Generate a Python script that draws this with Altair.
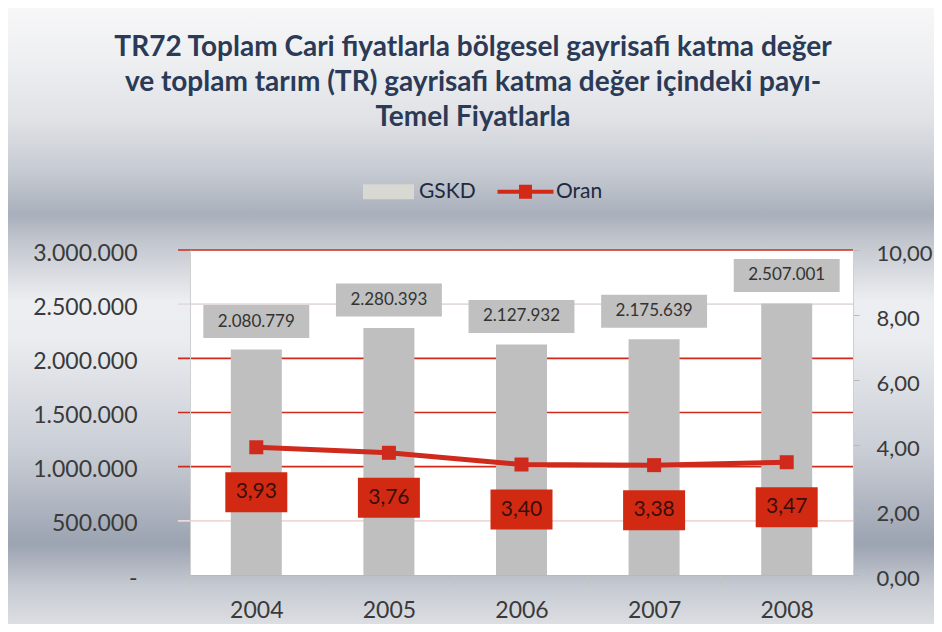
import altair as alt
import pandas as pd

# ---------------- data ----------------
years = ["2004", "2005", "2006", "2007", "2008"]
gskd = [2080779, 2280393, 2127932, 2175639, 2507001]
oran = [3.93, 3.76, 3.40, 3.38, 3.47]
left_ticks = [0, 500000, 1000000, 1500000, 2000000, 2500000, 3000000]
right_ticks = [0, 2, 4, 6, 8, 10]
grid_values = [500000, 1000000, 1500000, 2000000, 2500000, 3000000]
legend_names = ["GSKD", "Oran"]
title_lines = [
    "TR72 Toplam Cari fiyatlarla bölgesel gayrisafi katma değer",
    "ve toplam tarım (TR) gayrisafi katma değer içindeki payı-",
    "Temel Fiyatlarla",
]

# ---------------- styles ----------------
W, H = 663, 325
PAD = {"left": 182, "top": 242, "right": 81, "bottom": 49}
FONT = "Lato"
RED = "#cf2a1c"
grid_colors = ["#f0d8d5", RED, RED, RED, "#e3dcdc", RED]
bg_offsets = [0.0, 0.085, 0.18, 0.265, 0.335, 0.375, 0.475, 0.54, 0.72, 0.87, 0.94, 1.0]
bg_colors = ["#f7f7f8", "#eeeff1", "#e0e2e6", "#c6cad2", "#a9afbb", "#c0c4cc",
             "#eceef1", "#eaecef", "#c9cdd5", "#9ca3b1", "#c6cad2", "#dcdee2"]

df = pd.DataFrame({"year": years, "gskd": gskd, "oran": oran})
grid_df = pd.DataFrame({"v": grid_values, "c": grid_colors})
legend_df = pd.DataFrame({"lg": legend_names})
one = pd.DataFrame({"k": [0]})

x_scale = alt.Scale(domain=years, paddingInner=0, paddingOuter=0)
x_axis = alt.Axis(
    title=None, labelAngle=0, tickBand="extent", tickSize=10, tickColor="#c4c4c4",
    domainColor="#b8b8b8", labelPadding=14, labelFont=FONT, labelFontSize=23,
    labelColor="#3a3a3a", zindex=1)
x_enc = alt.X("year:N", scale=x_scale, axis=x_axis)
yl_scale = alt.Scale(domain=[0, 3000000], nice=False)
yr_scale = alt.Scale(domain=[0, 10], nice=False)

# legend (source points hidden under the background)
rect_path = "M-2.55,-0.75H2.55V0.75H-2.55Z"
line_path = "M-2.8,-0.2H2.8V0.2H-2.8Z M-0.65,-0.7H0.65V0.7H-0.65Z"
leg = alt.Legend(title=None, orient="none", legendX=188, legendY=-69,
                 direction="horizontal", symbolSize=400, symbolStrokeWidth=0,
                 labelFont=FONT, labelFontSize=21, labelColor="#1e2a40",
                 labelOffset=20, columnPadding=21, padding=0, zindex=1)
legend_layer = alt.Chart(legend_df).mark_point(filled=True, size=400, opacity=1).encode(
    color=alt.Color("lg:N", scale=alt.Scale(domain=legend_names, range=["#d9d9d4", "#d22a16"]), legend=leg),
    shape=alt.Shape("lg:N", scale=alt.Scale(domain=legend_names, range=[rect_path, line_path]), legend=leg),
)

grad = alt.LinearGradient(
    gradient="linear", x1=0, y1=0, x2=0, y2=1,
    stops=[alt.GradientStop(offset=o, color=c) for o, c in zip(bg_offsets, bg_colors)],
)
background = alt.Chart(one).mark_rect(fill=grad, strokeWidth=0).encode(
    x=alt.value(-PAD["left"]), x2=alt.value(W + PAD["right"]),
    y=alt.value(-PAD["top"]), y2=alt.value(H + PAD["bottom"]),
)
plot_bg = alt.Chart(one).mark_rect(fill="white", strokeWidth=0).encode(
    x=alt.value(0), x2=alt.value(W), y=alt.value(0), y2=alt.value(H)
)

title_layer = alt.Chart(one).mark_text(
    font=FONT, fontSize=28, fontWeight="bold", color="#2b3a57",
    lineHeight=35, align="center", baseline="middle",
).encode(x=alt.value(283), y=alt.value(-202), text=alt.value(title_lines))

grid = alt.Chart(grid_df).mark_rule(strokeWidth=1.6).encode(
    y=alt.Y("v:Q", scale=yl_scale, axis=None),
    x=alt.value(-12), x2=alt.value(W),
    color=alt.Color("c:N", scale=None),
)

bars = alt.Chart(df).mark_bar(width=51, color="#bfbfbf").encode(
    x=x_enc,
    y=alt.Y("gskd:Q", scale=yl_scale, axis=alt.Axis(
        title=None, orient="left", values=left_ticks, format=",.0f",
        labelExpr="datum.value == 0 ? '-\u00a0\u00a0\u00a0\u00a0' : datum.label",
        ticks=False, grid=False, domainColor="#cfcfcf", labelPadding=53, labelOffset=3,
        labelFont=FONT, labelFontSize=23, labelColor="#3a3a3a", zindex=1)),
)

box_path = "M-3.21,-1H3.21V1H-3.21Z"
gray_boxes = alt.Chart(df).mark_point(shape=box_path, filled=True, size=1089, color="#c0c0c0",
                                       opacity=1, strokeWidth=0, yOffset=-28).encode(
    x=x_enc, y=alt.Y("gskd:Q", scale=yl_scale, axis=None))
gray_text = alt.Chart(df).mark_text(font=FONT, fontSize=17, color="#333333", baseline="middle",
                                     yOffset=-28).encode(
    x=x_enc, y=alt.Y("gskd:Q", scale=yl_scale, axis=None),
    text=alt.Text("gskd:Q", format=",.0f"))

line = alt.Chart(df).mark_line(color=RED, strokeWidth=5).encode(
    x=x_enc,
    y=alt.Y("oran:Q", scale=yr_scale, axis=alt.Axis(
        title=None, orient="right", values=right_ticks, format=".2f", grid=False,
        tickSize=6, tickColor="#b8b8b8", domainColor="#cfcfcf", labelPadding=17, labelOffset=3,
        labelFont=FONT, labelFontSize=22, labelColor="#3a3a3a", zindex=1)),
)
squares = alt.Chart(df).mark_square(size=196, color=RED, opacity=1).encode(
    x=x_enc, y=alt.Y("oran:Q", scale=yr_scale, axis=None))

red_path = "M-3.1,-2H3.1V2H-3.1Z"
red_boxes = alt.Chart(df).mark_point(shape=red_path, filled=True, size=400, color="#d22a12",
                                      opacity=1, strokeWidth=0, yOffset=45).encode(
    x=x_enc, y=alt.Y("oran:Q", scale=yr_scale, axis=None))
red_text = alt.Chart(df).mark_text(font=FONT, fontSize=21, color="#3b0d08", baseline="middle",
                                    yOffset=45).encode(
    x=x_enc, y=alt.Y("oran:Q", scale=yr_scale, axis=None),
    text=alt.Text("oran:Q", format=".2f"))

chart = alt.layer(
    legend_layer, background, plot_bg, title_layer, grid, bars, gray_boxes, gray_text,
    line, squares, red_boxes, red_text,
).resolve_scale(y="independent").properties(
    width=W, height=H,
    autosize=alt.AutoSizeParams(type="none"),
    padding=PAD,
    background="#ffffff",
).configure_view(strokeWidth=0).configure(
    locale={"number": {"decimal": ",", "thousands": ".", "grouping": [3], "currency": ["", ""]}}
)

chart.save("out.html", embed_options={"renderer": "svg", "actions": False})
